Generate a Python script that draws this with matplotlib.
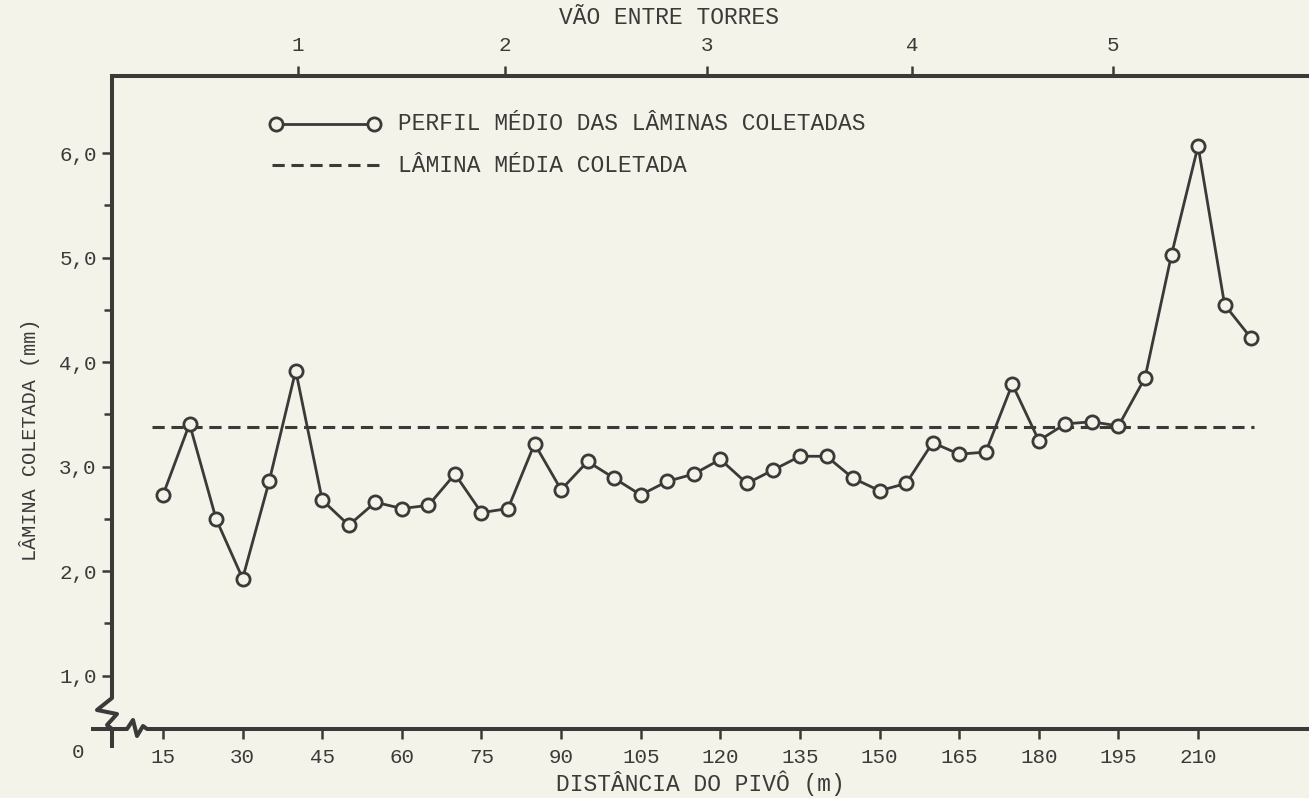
import matplotlib
matplotlib.use('Agg')
import matplotlib.pyplot as plt
from matplotlib.lines import Line2D

# ---------------- data ----------------
distancia = [15, 20, 25, 30, 35, 40, 45, 50, 55, 60, 65, 70, 75, 80, 85, 90, 95,
             100, 105, 110, 115, 120, 125, 130, 135, 140, 145, 150, 155, 160, 165,
             170, 175, 180, 185, 190, 195, 200, 205, 210, 215, 220]
lamina = [2.73, 3.41, 2.50, 1.93, 2.86, 3.92, 2.68, 2.44, 2.66, 2.60, 2.63, 2.93,
          2.56, 2.60, 3.22, 2.78, 3.05, 2.89, 2.73, 2.86, 2.93, 3.07, 2.84, 2.97,
          3.10, 3.10, 2.89, 2.77, 2.84, 3.23, 3.12, 3.14, 3.79, 3.25, 3.41, 3.43,
          3.39, 3.85, 5.03, 6.07, 4.55, 4.23]
lamina_media = 3.38
torres_pos = [40.4, 79.4, 117.5, 156.1, 194.0]
torres_lbl = ['1', '2', '3', '4', '5']
xticks = [15, 30, 45, 60, 75, 90, 105, 120, 135, 150, 165, 180, 195, 210]
xtick_lbl = [str(v) for v in xticks]
yticks = [1, 2, 3, 4, 5, 6]
ytick_lbl = ['1,0', '2,0', '3,0', '4,0', '5,0', '6,0']
yminor = [1.5, 2.5, 3.5, 4.5, 5.5]

# ---------------- style ----------------
W, H = 1309, 798
PAPER = '#f3f3ea'
INK = '#3a3a38'
FONT = 'Liberation Mono'


def fx(x):
    return x / W


def fy(y):
    return 1 - y / H


fig = plt.figure(figsize=(W / 100, H / 100), dpi=100, facecolor=PAPER)
ax = fig.add_axes([fx(112), fy(729), (W - 112) / W, (729 - 76) / H])
ax.set_facecolor('none')
ax.set_xlim(5.39, 230.9)
ax.set_ylim(0.49, 6.739)

# series
ax.plot(distancia, lamina, '-o', color=INK, lw=2.0, ms=9.5, mfc=PAPER, mec=INK,
        mew=2.0, zorder=3)
ax.hlines(lamina_media, distancia[0] - 2, distancia[-1] + 0.6, colors=INK,
          linestyles=(0, (4, 2.2)), lw=2.2, zorder=2)

# spines
for s in ['left', 'right', 'bottom']:
    ax.spines[s].set_visible(False)
ax.spines['top'].set_linewidth(2.9)
ax.spines['top'].set_color(INK)

# ticks
ax.set_xticks(xticks)
ax.set_xticklabels(xtick_lbl, fontfamily=FONT, fontsize=15, color=INK)
ax.tick_params(axis='x', direction='out', length=7, width=1.8, color=INK, pad=7)
ax.set_yticks(yticks)
ax.set_yticklabels(ytick_lbl, fontfamily=FONT, fontsize=15, color=INK)
ax.set_yticks(yminor, minor=True)
ax.tick_params(axis='y', which='major', direction='out', length=7, width=1.8,
               color=INK, pad=4)
ax.tick_params(axis='y', which='minor', direction='out', length=5.5, width=1.8,
               color=INK)

sec = ax.secondary_xaxis('top')
sec.set_xticks(torres_pos)
sec.set_xticklabels(torres_lbl, fontfamily=FONT, fontsize=15, color=INK)
sec.tick_params(axis='x', direction='out', length=7, width=1.8, color=INK, pad=8)
sec.spines['top'].set_visible(False)

# manual axes with break marks
left_axis = [(112, 76), (112, 698), (97, 710), (117, 714), (107, 725),
             (112, 729), (112, 748)]
bottom_axis = [(91, 729), (127, 729), (133, 720), (137, 736), (143, 726),
               (147, 729), (W, 729)]
for pts in (left_axis, bottom_axis):
    fig.add_artist(Line2D([fx(p[0]) for p in pts], [fy(p[1]) for p in pts],
                          transform=fig.transFigure, color=INK, lw=2.9,
                          solid_joinstyle='round', solid_capstyle='butt'))

# texts
fig.text(fx(669), fy(18), 'VÃO ENTRE TORRES', ha='center', va='center',
         fontsize=16.5, family=FONT, color=INK)
fig.text(fx(700), fy(783), 'DISTÂNCIA DO PIVÔ (m)', ha='center', va='center',
         fontsize=16.5, family=FONT, color=INK)
fig.text(fx(30), fy(440), 'LÂMINA COLETADA (mm)', ha='center', va='center',
         rotation=90, fontsize=14.5, family=FONT, color=INK)
fig.text(fx(78), fy(752), '0', ha='center', va='center', fontsize=15,
         family=FONT, color=INK)

# legend
fig.add_artist(Line2D([fx(276), fx(374)], [fy(124), fy(124)],
                      transform=fig.transFigure, color=INK, lw=2.0, marker='o',
                      ms=9.5, mfc=PAPER, mec=INK, mew=2.0))
fig.text(fx(398), fy(124), 'PERFIL MÉDIO DAS LÂMINAS COLETADAS', ha='left',
         va='center', fontsize=16.5, family=FONT, color=INK)
fig.add_artist(Line2D([fx(272), fx(382)], [fy(165), fy(165)],
                      transform=fig.transFigure, color=INK, lw=2.2,
                      linestyle=(0, (4, 2.2))))
fig.text(fx(398), fy(165), 'LÂMINA MÉDIA COLETADA', ha='left', va='center',
         fontsize=16.5, family=FONT, color=INK)

fig.savefig('out.png', dpi=100, facecolor=PAPER)
